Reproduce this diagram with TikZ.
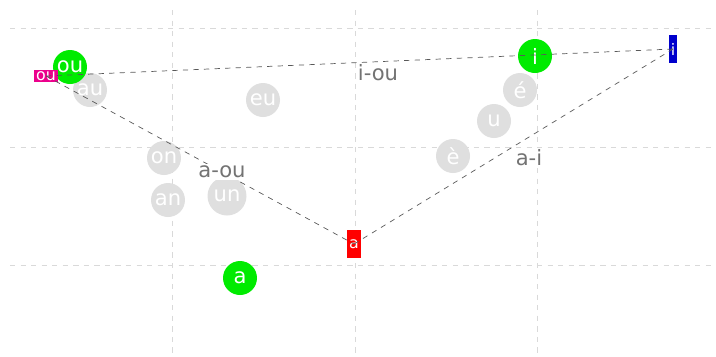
\documentclass[tikz,border=0pt]{standalone}
\usepackage{fontspec}
\setmainfont{DejaVu Sans}
\begin{document}
\begin{tikzpicture}[x=0.02cm, y=-0.02cm,
    vowel/.style={circle, fill=gray!25, text=white, inner sep=0pt, minimum size=0.68cm, font=\large},
    hit/.style={vowel, fill=green!90!black!80!green},
    corner/.style={rectangle, text=white, inner sep=1pt, font=\small},
    pair/.style={text=gray!90!black, fill=white, inner sep=1pt, font=\large}]
    \useasboundingbox (0,0) rectangle (716,356);
    % grid
    \foreach \x in {172,355,537} \draw[gray!30, dashed] (\x,10)--(\x,356);
    \foreach \y in {28,147,265} \draw[gray!30, dashed] (10,\y)--(716,\y);
    % vowels
    \node[vowel] (au) at (90,90) {au};
    \node[vowel] (eu) at (263,100) {eu};
    \node[vowel] (on) at (164,158) {on};
    \node[vowel] (an) at (168,200) {an};
    \node[vowel, minimum size=0.78cm] (un) at (227,196) {un};
    \node[vowel] (eacute) at (520,90) {é};
    \node[vowel] (u) at (494,121) {u};
    \node[vowel] (egrave) at (453,156) {è};
    \node[hit] (ou) at (70,67) {ou};
    \node[hit] (i) at (535,56) {i};
    \node[hit] (a) at (240,278) {a};
    % triangle corners
    \node[corner, fill=magenta] (cou) at (46,76) {ou};
    \node[corner, fill=red, minimum height=16pt] (ca) at (354,244) {a};
    \node[corner, fill=blue!80!black, minimum height=16pt] (ci) at (673,49) {i};
    \draw[gray!70!black, dashed, thin] (cou.center)--(ci.center) (cou.center)--(ca.center) (ca.center)--(ci.center);
    \node[pair] (iou) at (378,73) {i-ou};
    \node[pair] (aou) at (222,172) {a-ou};
    \node[pair] (ai) at (529,158) {a-i};
\end{tikzpicture}
\end{document}
